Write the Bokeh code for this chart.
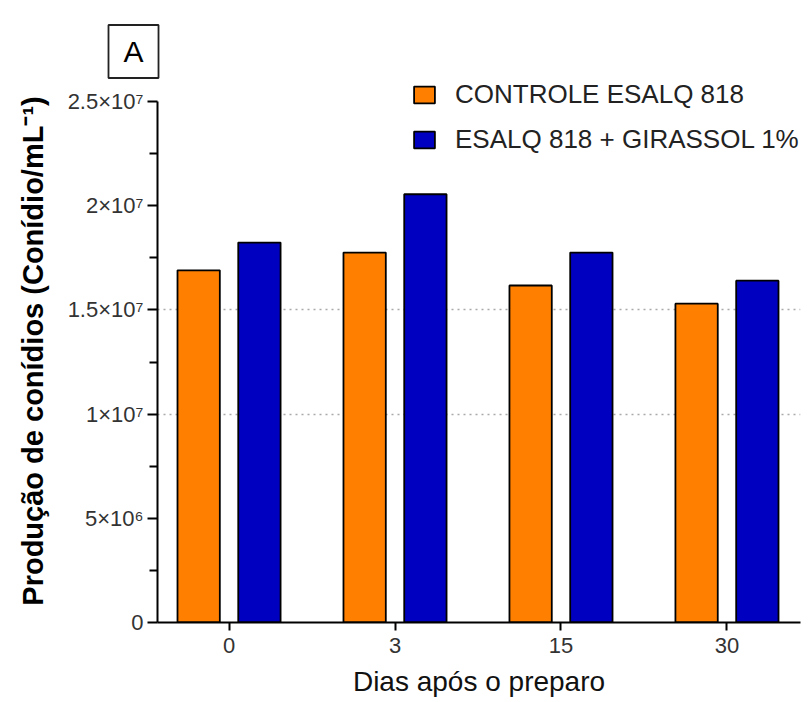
from bokeh.plotting import figure
from bokeh.models import (FixedTicker, Legend, LegendItem, ColumnDataSource)
from bokeh.embed import file_html
from bokeh.resources import INLINE

# ---- data ----
days = ["0", "3", "15", "30"]
controle = [1.69e7, 1.775e7, 1.617e7, 1.53e7]
girassol = [1.823e7, 2.055e7, 1.775e7, 1.64e7]
series_names = ["CONTROLE ESALQ 818", "ESALQ 818 + GIRASSOL 1%"]
series_colors = ["#FF8000", "#0000C0"]
y_ticks = [0, 5e6, 1e7, 1.5e7, 2e7, 2.5e7]
y_tick_labels = ["0", "5×10⁶", "1×10⁷", "1.5×10⁷", "2×10⁷", "2.5×10⁷"]
y_minor = [2.5e6, 7.5e6, 1.25e7, 1.75e7, 2.25e7]
grid_values = [1e7, 1.5e7]
y_axis_max = 2.5e7
panel_letter = "A"

FONT = "Liberation Sans"
idx = list(range(len(days)))

# frame: left 157, right 800, top 79, bottom 622; axis top (2.5e7) at 101
y_end = y_axis_max * (622 - 79) / (622 - 101)

p = figure(width=811, height=702, output_backend="svg", toolbar_location=None,
           x_range=(-0.431, 3.443), y_range=(0, y_end),
           min_border_left=157, min_border_right=11, min_border_top=79,
           min_border_bottom=80)
p.outline_line_color = None
p.background_fill_color = "white"
p.border_fill_color = "white"

off = 0.183
w = 0.255
src_c = ColumnDataSource(dict(x=[i - off for i in idx], top=controle))
src_g = ColumnDataSource(dict(x=[i + off for i in idx], top=girassol))
r1 = p.vbar(x="x", top="top", width=w, bottom=0, source=src_c,
            fill_color=series_colors[0], line_color="black", line_width=1.8)
r2 = p.vbar(x="x", top="top", width=w, bottom=0, source=src_g,
            fill_color=series_colors[1], line_color="black", line_width=1.8)

# grid
p.xgrid.visible = False
p.ygrid.ticker = FixedTicker(ticks=grid_values)
p.ygrid.grid_line_color = "#aaaaaa"
p.ygrid.grid_line_dash = "2 4"
p.ygrid.grid_line_width = 1.5

# x axis
p.xaxis.ticker = FixedTicker(ticks=idx)
p.xaxis.major_label_overrides = {i: d for i, d in zip(idx, days)}
p.xaxis.minor_tick_line_color = None
p.xaxis.major_tick_out = 8
p.xaxis.major_tick_in = 0
p.xaxis.axis_line_width = 2
p.xaxis.major_tick_line_width = 2
p.xaxis.major_label_text_font = FONT
p.xaxis.major_label_text_font_size = "22px"
p.xaxis.major_label_text_color = "#333333"
p.xaxis.major_label_standoff = 7
p.xaxis.axis_label = "Dias após o preparo"
p.xaxis.axis_label_text_font = FONT
p.xaxis.axis_label_text_font_size = "28px"
p.xaxis.axis_label_text_font_style = "normal"
p.xaxis.axis_label_text_color = "#111111"
p.xaxis.axis_label_standoff = 10

# y axis
p.yaxis.ticker = FixedTicker(ticks=y_ticks, minor_ticks=y_minor)
p.yaxis.bounds = (0, y_axis_max)
p.yaxis.major_label_overrides = {t: l for t, l in zip(y_ticks, y_tick_labels)}
p.yaxis.major_tick_out = 10
p.yaxis.major_tick_in = 0
p.yaxis.minor_tick_out = 8
p.yaxis.minor_tick_in = 0
p.yaxis.axis_line_width = 2
p.yaxis.major_tick_line_width = 2
p.yaxis.minor_tick_line_width = 2
p.yaxis.major_label_text_font = FONT
p.yaxis.major_label_text_font_size = "22px"
p.yaxis.major_label_text_color = "#333333"
p.yaxis.major_label_standoff = 4
p.yaxis.axis_label = "Produção de conídios (Conídio/mL⁻¹)"
p.yaxis.axis_label_text_font = FONT
p.yaxis.axis_label_text_font_size = "29px"
p.yaxis.axis_label_text_font_style = "bold"
p.yaxis.axis_label_text_color = "black"
p.yaxis.axis_label_standoff = 16

# legend
legend = Legend(items=[LegendItem(label=series_names[0], renderers=[r1]),
                       LegendItem(label=series_names[1], renderers=[r2])],
                location=(254, 467), orientation="vertical",
                glyph_width=26, glyph_height=21, label_height=30,
                label_standoff=18, spacing=14, padding=0, margin=0,
                border_line_color=None, background_fill_alpha=0,
                label_text_font=FONT, label_text_font_size="26px",
                label_text_color="#222222")
p.add_layout(legend, "center")

# panel letter in a box (title)
p.title.text = panel_letter
p.title.align = "left"
p.title.offset = -49
p.title.standoff = 3
p.title.text_font = FONT
p.title.text_font_size = "30px"
p.title.text_font_style = "normal"
p.title.text_color = "black"
p.title.padding = (15, 10)
p.title.border_line_color = "#222222"
p.title.border_line_width = 1.8
p.title.background_fill_color = "white"

open("out.html", "w").write(file_html(p, INLINE))
